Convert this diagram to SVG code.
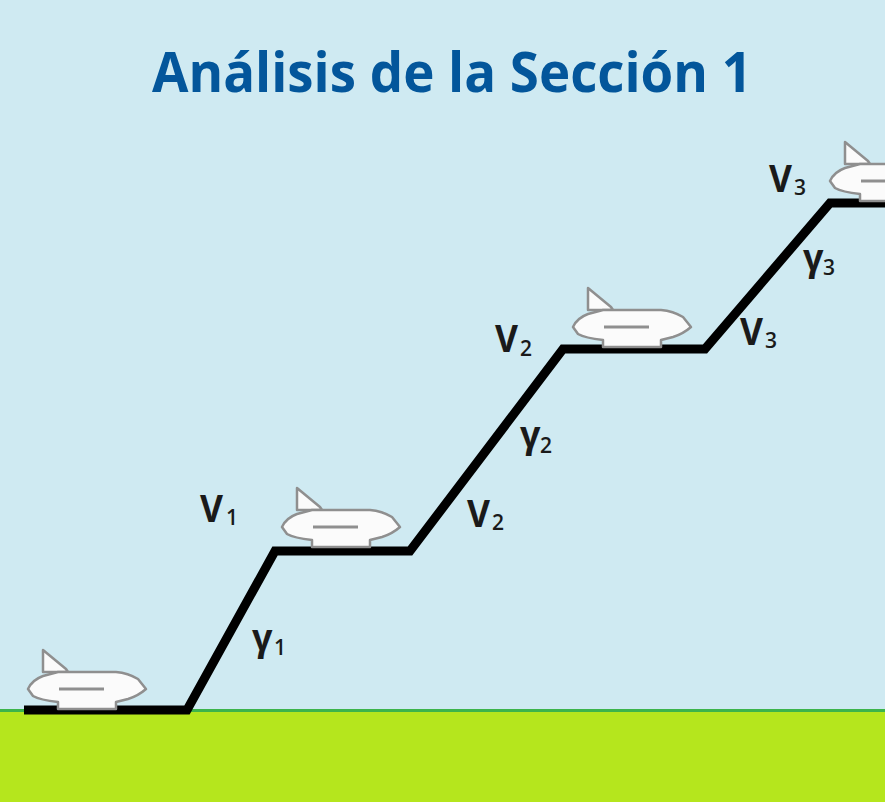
<svg xmlns="http://www.w3.org/2000/svg" xmlns:xlink="http://www.w3.org/1999/xlink" width="885" height="802" viewBox="0 0 885 802">
  <style>
    .title { font-family: "Open Sans", "Liberation Sans", sans-serif; font-weight: 700; font-size: 56px; fill: #03569b; }
    .v { font-family: "Open Sans", "Liberation Sans", sans-serif; font-weight: 700; font-size: 38px; fill: #1a1a1a; }
    .g { font-family: "Open Sans", "Liberation Sans", sans-serif; font-weight: 700; font-size: 36px; fill: #1a1a1a; }
    .sub { font-family: "Open Sans", "Liberation Sans", sans-serif; font-weight: 600; font-size: 21px; fill: #1a1a1a; }
    .track { fill: none; stroke: #000; stroke-width: 9; stroke-linejoin: miter; }
    .body { fill: #fbfbfb; stroke: #8f8f8f; stroke-width: 2.5; stroke-linejoin: round; }
    .dash { stroke: #8f8f8f; stroke-width: 3; }
  </style>
  <defs>
    <!-- airplane symbol, origin at the pointed tip on the left -->
    <g id="plane">
      <path class="body" d="M15,-39 L38,-20 L40,-17 L15,-17 Z"/>
      <path class="body" d="M0,0 Q4,-9 15,-13 L30,-17 L88,-17 Q100,-16 110,-10 L118,0 Q110,7 100,10 L88,13 L88,20 L30,20 L30,13 Q12,11 5,7 Z"/>
      <line class="dash" x1="31" y1="0" x2="76" y2="0"/>
    </g>
  </defs>

  <!-- sky -->
  <rect x="0" y="0" width="885" height="802" fill="#cfeaf2"/>
  <!-- ground -->
  <rect x="0" y="712" width="885" height="90" fill="#b5e61d"/>
  <rect x="0" y="709" width="885" height="3" fill="#3cb44b"/>

  <text class="title" x="152" y="92" textLength="600" lengthAdjust="spacingAndGlyphs">Análisis de la Sección 1</text>

  <!-- climb / level flight profile -->
  <g id="connectors">
    <path class="track" d="M24,710 L187,710 L275,551 L410,551 L563,349 L705,349 L830,203 L885,203"/>
  </g>

  <g id="plane1"><use xlink:href="#plane" x="28" y="689"/></g>
  <g id="plane2"><use xlink:href="#plane" x="282" y="527"/></g>
  <g id="plane3"><use xlink:href="#plane" x="573" y="327"/></g>
  <g id="plane4"><use xlink:href="#plane" x="830" y="181"/></g>

  <g id="labels">
    <g id="v1"><text class="v" x="200" y="522" textLength="23" lengthAdjust="spacingAndGlyphs">V</text><text class="sub" x="226" y="525">1</text></g>
    <g id="g1"><text class="g" x="252" y="650">γ</text><text class="sub" x="274" y="655">1</text></g>
    <g id="v2a"><text class="v" x="495" y="352" textLength="23" lengthAdjust="spacingAndGlyphs">V</text><text class="sub" x="520" y="356">2</text></g>
    <g id="g2"><text class="g" x="520" y="447">γ</text><text class="sub" x="540" y="453">2</text></g>
    <g id="v2b"><text class="v" x="467" y="527" textLength="23" lengthAdjust="spacingAndGlyphs">V</text><text class="sub" x="492" y="530">2</text></g>
    <g id="v3a"><text class="v" x="740" y="345" textLength="23" lengthAdjust="spacingAndGlyphs">V</text><text class="sub" x="765" y="348">3</text></g>
    <g id="g3"><text class="g" x="803" y="270">γ</text><text class="sub" x="823" y="275">3</text></g>
    <g id="v3b"><text class="v" x="769" y="192" textLength="23" lengthAdjust="spacingAndGlyphs">V</text><text class="sub" x="794" y="195">3</text></g>
  </g>
</svg>
